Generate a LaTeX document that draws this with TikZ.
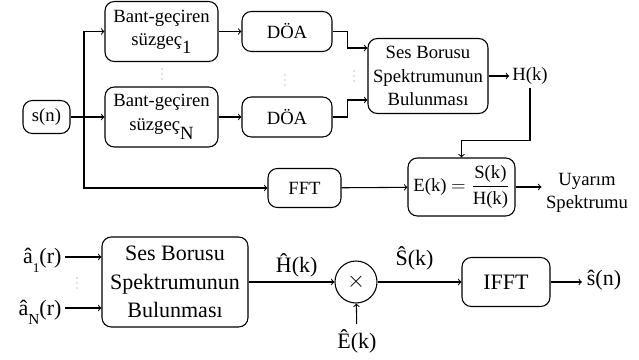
\documentclass[tikz,border=0pt]{standalone}
\usepackage{amsmath}
\usepackage{fontspec}
\setmainfont{Liberation Serif}
\usetikzlibrary{calc}

\begin{document}
\begin{tikzpicture}[x = 0.75pt, y = -0.75pt, line width = 0.8pt,
  font = \fontsize{14}{17.5}\selectfont,
  blok/.style = {draw, rounded corners = 7pt, align = center, inner sep = 0pt},
  alt/.style = {font = \fontsize{16.5}{21.5}\selectfont}]
\useasboundingbox (0,0) rectangle (639,360);

\node [blok, minimum width = 35.25pt, minimum height = 24.75pt] (sn) at (46.5,117) {s(n)};
\node [blok, minimum width = 84.75pt, minimum height = 45pt] (bpfA) at (161.5,31.5) {Bant-geçiren\\süzgeç\raisebox{-6pt}{1}};
\node [blok, minimum width = 84.75pt, minimum height = 45pt] (bpfB) at (161.5,117) {Bant-geçiren\\süzgeç\raisebox{-7pt}{N}};
\node [blok, minimum width = 67.5pt, minimum height = 30pt] (doaA) at (287,31.5) {DÖA};
\node [blok, minimum width = 67.5pt, minimum height = 30pt] (doaB) at (287,117) {DÖA};
\node [blok, minimum width = 90pt, minimum height = 56.25pt] (ses) at (428,76) {Ses Borusu\\Spektrumunun\\Bulunması};
\node [inner sep = 2pt] (hk) at (530,76) {H(k)};
\node [blok, minimum width = 54.75pt, minimum height = 29.25pt] (fft) at (304.5,188) {FFT};
\node [blok, minimum width = 80.25pt, minimum height = 43.5pt] (e) at (461.5,187) {E(k) $= \dfrac{\mbox{S(k)}}{\mbox{H(k)}}$};
\node [align = center, inner sep = 3pt] (uy) at (587,193) {Uyarım\\Spektrumu};
\coordinate (kol) at (84,117);

\foreach \x/\y in {162/69, 285/75, 354/71, 77/278}
\foreach \d in {0,5,10}
\fill [gray] (\x,\y+\d) circle (0.5pt);

\draw [->] (sn) -- (bpfB);
\draw [->] (kol) |- (bpfA);
\draw [->] (kol) |- (fft);
\draw [->] (bpfA) -- (doaA);
\draw [->] (bpfB) -- (doaB);
\draw [->] (doaA.east) -- ++(15,0) |- ($(ses.west)+(0,-28)$);
\draw [->] (doaB.east) -- ++(15,0) |- ($(ses.west)+(0,24)$);
\draw [->] (ses) -- (hk);
\draw [->] (hk.south) |- ($(e.north)+(0,-17)$) -- (e.north);
\draw [->] (fft) -- (e);
\draw [->] (e.east) -- (e.east -| uy.west);

\node [blok, alt, minimum width = 109.5pt, minimum height = 67.5pt] (ses2) at (175,282) {Ses Borusu\\Spektrumunun\\Bulunması};
\node [alt, anchor = base east, inner sep = 0pt] (a1) at (62,263) {\^a\raisebox{-7pt}{\fontsize{10}{10}\selectfont 1}(r)};
\node [alt, anchor = base east, inner sep = 0pt] (aN) at (62,315) {\^a\raisebox{-7pt}{\fontsize{11.5}{11.5}\selectfont N}(r)};
\node [draw, circle, alt, minimum size = 31.5pt, inner sep = 0pt] (carp) at (356,282) {$\times$};
\node [blok, alt, minimum width = 66pt, minimum height = 36.75pt] (ifft) at (506,282) {IFFT};
\node [alt] (ek) at (357,341) {\^E(k)};
\node [alt] (sn2) at (604,280) {\^s(n)};

\draw [->] ($(a1.base east)+(3,-6)$) -- ($(ses2.west)+(0,-25)$);
\draw [->] ($(aN.base east)+(3,-7)$) -- ($(ses2.west)+(0,26)$);
\draw [->] (ses2) -- node [above, pos = .56, alt] {\^H(k)} (carp);
\draw [->] (carp) -- node [above = 5pt, pos = .44, alt] {\^S(k)} (ifft);
\draw [->] (ek) -- (carp);
\draw [->] (ifft) -- (ifft.east -| sn2.west);
\end{tikzpicture}
\end{document}
